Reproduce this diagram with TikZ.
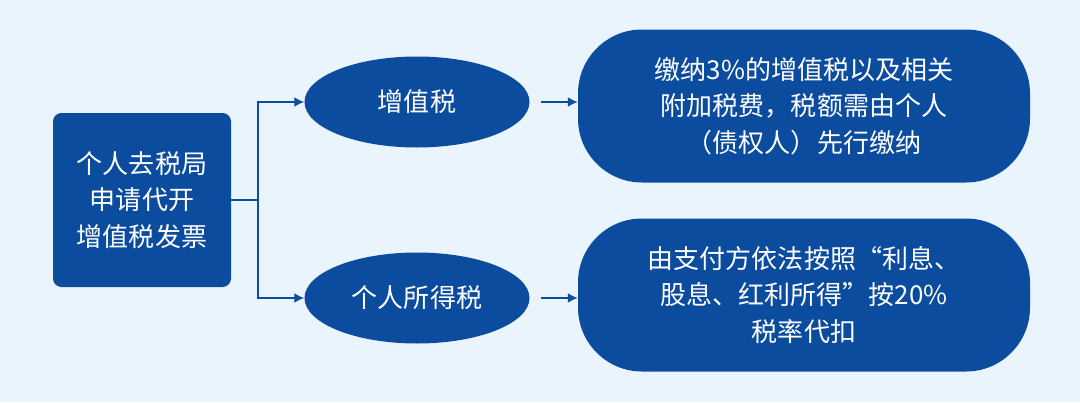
\documentclass[tikz,border=0pt]{standalone}
\usepackage{fontspec}
\setmainfont{Noto Sans CJK SC}
\usetikzlibrary{positioning,shapes.geometric,arrows.meta}
\definecolor{bgblue}{HTML}{EAF4FC}
\definecolor{darkblue}{HTML}{0B4C9F}
\begin{document}
\begin{tikzpicture}[x=0.025cm,y=-0.025cm]
		\tikzstyle{txt}=[text=white, font=\fontsize{18.5}{26}\selectfont, align=center]
		\tikzstyle{oval}=[ellipse, fill=darkblue, minimum width=225*0.025cm, minimum height=91*0.025cm, inner sep=0pt, txt]
		\tikzstyle{pill}=[rectangle, rounded corners=1.6cm, fill=darkblue, minimum width=452*0.025cm, minimum height=153*0.025cm, txt]
		\tikzstyle{link}=[darkblue, line width=1.2pt, -{Latex[length=7pt,width=7pt]}]
		\fill[bgblue] (0,0) rectangle (1080,402);
		
		% Source
		\node[rectangle, rounded corners=6pt, fill=darkblue, minimum width=178*0.025cm, minimum height=174*0.025cm, txt] (src) at (142,200) {个人去税局\\申请代开\\增值税发票};
		
		% Taxes
		\node[oval] (vat) at (417,102) {增值税};
		\node[oval] (pit) at (417,298) {个人所得税};
		
		% Details
		\node[pill] (vatd) at (804,106) {缴纳3\%的增值税以及相关\\附加税费，税额需由个人\\（债权人）先行缴纳};
		\node[pill] (pitd) at (804,295) {由支付方依法按照“利息、\\股息、红利所得”按20\%\\税率代扣};
		
		% Links
		\coordinate (split) at (258,200);
		\draw[darkblue, line width=1.2pt] (src.east) -- (split);
		\draw[link] (split) |- (vat.west);
		\draw[link] (split) |- (pit.west);
		\draw[link] ([xshift=8pt]vat.east) -- (vatd.west |- vat.east);
		\draw[link] ([xshift=8pt]pit.east) -- (pitd.west |- pit.east);
\end{tikzpicture}
\end{document}
